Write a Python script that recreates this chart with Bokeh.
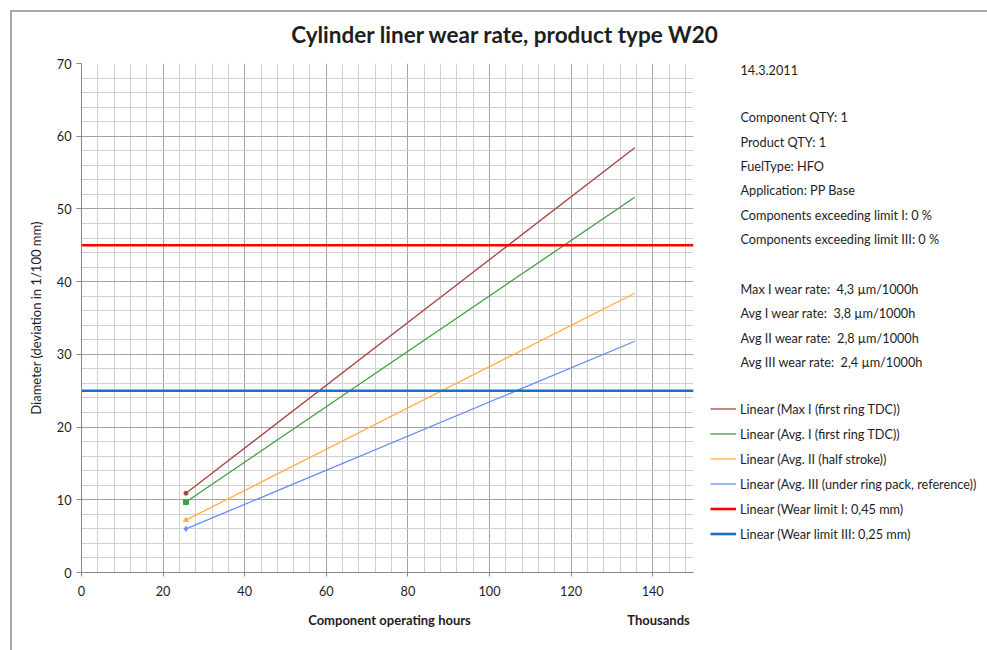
from bokeh.plotting import figure
from bokeh.layouts import column, row
from bokeh.models import Label, Legend, LegendItem, SingleIntervalTicker, Range1d
from bokeh.embed import file_html
from bokeh.resources import INLINE

# ---------------- data ----------------
TITLE = "Cylinder liner wear rate, product type W20"
X_LABEL = "Component operating hours"
X_UNIT_LABEL = "Thousands"
Y_LABEL = "Diameter (deviation in 1/100 mm)"

trend_names = [
    "Linear (Max I (first ring TDC))",
    "Linear (Avg. I (first ring TDC))",
    "Linear (Avg. II (half stroke))",
    "Linear (Avg. III (under ring pack, reference))",
]
trend_hours = [25.6, 135.6]          # thousands of operating hours
max_i = [10.9, 58.4]
avg_i = [9.7, 51.6]
avg_ii = [7.2, 38.4]
avg_iii = [6.0, 31.8]

limit_names = [
    "Linear (Wear limit I: 0,45 mm)",
    "Linear (Wear limit III: 0,25 mm)",
]
limit_hours = [0, 150]
limit_i = [45, 45]
limit_iii = [25, 25]

date_text = "14.3.2011"
info_lines = [
    "Component QTY: 1",
    "Product QTY: 1",
    "FuelType: HFO",
    "Application: PP Base",
    "Components exceeding limit I: 0 %",
    "Components exceeding limit III: 0 %",
]
rate_lines = [
    "Max I wear rate: \u00a04,3 \u00b5m/1000h",
    "Avg I wear rate: \u00a03,8 \u00b5m/1000h",
    "Avg II wear rate: \u00a02,8 \u00b5m/1000h",
    "Avg III wear rate: \u00a02,4 \u00b5m/1000h",
]

X_MIN, X_MAX = 0, 150
Y_MIN, Y_MAX = 0, 70

# ---------------- styles ----------------
FONT = "Lato"
TXT = "#1e1e1e"
FS = "12.7px"
trend_colors = ["#a8413f", "#3f9e3f", "#ffad42", "#658cf2"]
trend_markers = ["circle", "square", "triangle", "diamond"]
trend_marker_sizes = [4, 5, 5, 5]
limit_colors = ["#ff0000", "#1c6fc4"]
TREND_W = 1.3
LIMIT_W = 2.6

# page layout (content starts at page x=12, y=12 inside the grey border)
CX0, CY0 = 12, 12
TOTAL_W = 975
TITLE_H = 39
MAIN_W, MAIN_H = 688, 554
SIDE_W = TOTAL_W - MAIN_W
BOTTOM_H = 650 - CY0 - TITLE_H - MAIN_H
B_LEFT, B_RIGHT, B_TOP, B_BOTTOM = 69, 7, 12, 33


def strip(x0, y0, w, h, bt=0, bb=0):
    """A plain figure whose frame maps data units to page pixels (y downwards)."""
    f = figure(width=w, height=h, output_backend="svg", toolbar_location=None,
               x_range=Range1d(x0, x0 + w), y_range=Range1d(y0 + h - bb, y0 + bt),
               x_axis_type=None, y_axis_type=None, title=None,
               min_border=0, min_border_left=0, min_border_right=0,
               min_border_top=bt, min_border_bottom=bb)
    f.outline_line_color = None
    f.background_fill_color = "white"
    f.border_fill_color = "white"
    return f


def add_text(f, txt, px, py, size=FS, bold=False, align="left"):
    f.add_layout(Label(x=px, y=py, text=txt, text_font=FONT,
                       text_font_size=size, text_color=TXT,
                       text_font_style="bold" if bold else "normal",
                       text_align=align, text_baseline="middle"))


# ---------------- title strip ----------------
p_title = strip(CX0, CY0, TOTAL_W, TITLE_H)
add_text(p_title, TITLE, 505, 34, size="22.5px", bold=True, align="center")

# ---------------- main chart ----------------
p = figure(width=MAIN_W, height=MAIN_H, output_backend="svg", toolbar_location=None,
           x_range=Range1d(X_MIN, X_MAX), y_range=Range1d(Y_MIN, Y_MAX),
           min_border_left=B_LEFT, min_border_right=B_RIGHT, min_border_top=B_TOP,
           min_border_bottom=B_BOTTOM, title=None)
p.outline_line_color = None
p.background_fill_color = "white"
p.border_fill_color = "white"

p.xaxis.ticker = SingleIntervalTicker(interval=20, num_minor_ticks=5)
p.yaxis.ticker = SingleIntervalTicker(interval=10, num_minor_ticks=5)
for ax in (p.xaxis[0], p.yaxis[0]):
    ax.axis_line_color = "#878787"
    ax.major_tick_line_color = "#878787"
    ax.major_tick_in = 0
    ax.minor_tick_in = 0
    ax.minor_tick_out = 0
    ax.major_label_text_font = FONT
    ax.major_label_text_font_size = FS
    ax.major_label_text_color = TXT
p.xaxis.major_tick_out = 4
p.xaxis.major_label_standoff = 9
p.yaxis.major_tick_out = 5
p.yaxis.major_label_standoff = 5
p.yaxis.axis_label = Y_LABEL
p.yaxis.axis_label_text_font = FONT
p.yaxis.axis_label_text_font_size = "13px"
p.yaxis.axis_label_text_font_style = "normal"
p.yaxis.axis_label_text_color = TXT
p.yaxis.axis_label_standoff = 10

for g in (p.xgrid[0], p.ygrid[0]):
    g.grid_line_color = "#a3a3a3"
    g.minor_grid_line_color = "#d0d0d0"

series = [max_i, avg_i, avg_ii, avg_iii]
for ys, col, mk, ms in zip(series, trend_colors, trend_markers, trend_marker_sizes):
    p.line(trend_hours, ys, line_color=col, line_width=TREND_W)
    p.scatter([trend_hours[0]], [ys[0]], marker=mk, size=ms, color=col)

for ys, col in zip([limit_i, limit_iii], limit_colors):
    p.line(limit_hours, ys, line_color=col, line_width=LIMIT_W)

# ---------------- side panel: notes + legend ----------------
SX0, SY0 = CX0 + MAIN_W, CY0 + TITLE_H
p_side = strip(SX0, SY0, SIDE_W, MAIN_H, bt=B_TOP, bb=B_BOTTOM)
add_text(p_side, date_text, 740, 69.5)
for i, t in enumerate(info_lines):
    add_text(p_side, t, 740, 116.7 + i * 24.4)
for i, t in enumerate(rate_lines):
    add_text(p_side, t, 740, 288.3 + i * 24.4)

# legend proxies: same series styles, data lies outside this panel's view
items = []
for name, ys, col in zip(trend_names, series, trend_colors):
    r = p_side.line(trend_hours, ys, line_color=col, line_width=TREND_W)
    items.append(LegendItem(label=name, renderers=[r]))
for name, ys, col in zip(limit_names, [limit_i, limit_iii], limit_colors):
    r = p_side.line(limit_hours, ys, line_color=col, line_width=LIMIT_W)
    items.append(LegendItem(label=name, renderers=[r]))

FRAME_BOTTOM = SY0 + MAIN_H - B_BOTTOM
LEG_LEFT, LEG_TOP, ROW_H = 710, 396, 25
legend = Legend(items=items,
                location=(LEG_LEFT - SX0, FRAME_BOTTOM - (LEG_TOP + ROW_H * len(items))),
                orientation="vertical",
                glyph_width=26, glyph_height=ROW_H, label_height=ROW_H, spacing=0,
                label_standoff=4, padding=0, margin=0,
                label_text_font=FONT, label_text_font_size=FS,
                label_text_color=TXT, border_line_alpha=0,
                background_fill_alpha=0)
p_side.add_layout(legend, "center")

# ---------------- bottom strip: x axis titles ----------------
BY0 = CY0 + TITLE_H + MAIN_H
p_bottom = strip(CX0, BY0, TOTAL_W, BOTTOM_H)
add_text(p_bottom, X_LABEL, 389, 619, size="13px", bold=True, align="center")
add_text(p_bottom, X_UNIT_LABEL, 658, 619, size="13px", bold=True, align="center")

root = column(p_title, row(p, p_side, spacing=0), p_bottom, spacing=0)
root.styles = {"margin-left": "10px", "margin-top": "10px",
               "border-left": "2px solid #a8a8a8", "border-top": "2px solid #a8a8a8"}

open("out.html", "w").write(file_html(root, INLINE))
